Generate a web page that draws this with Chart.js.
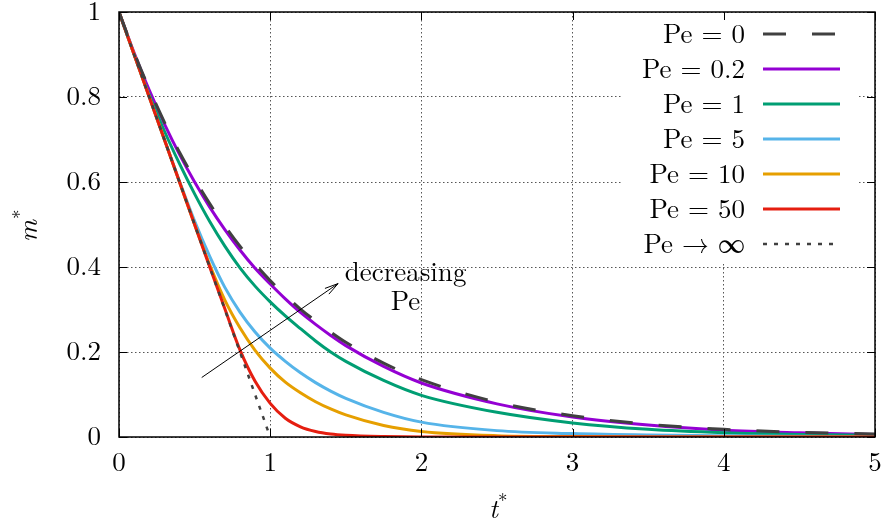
<!DOCTYPE html>
<html>
<head>
<meta charset="utf-8">
<script src="https://cdn.jsdelivr.net/npm/chart.js@4"></script>
<style>
  html, body { margin: 0; padding: 0; background: #fff; }
  #wrap { width: 881px; height: 525px; }
</style>
</head>
<body>
<div id="wrap"><canvas id="myChart"></canvas></div>
<script>
// Data
const tValues = [0, 0.1, 0.2, 0.3, 0.4, 0.5, 0.6, 0.7, 0.8, 0.9, 1.0, 1.1, 1.2, 1.3, 1.4, 1.5, 1.75, 2, 2.5, 3, 3.5, 4, 4.5, 5];
const peLabels = ["Pe = 0", "Pe = 0.2", "Pe = 1", "Pe = 5", "Pe = 10", "Pe = 50", "Pe \u2192 \u221E"];
const mPe0   = [1, 0.905, 0.819, 0.741, 0.670, 0.607, 0.549, 0.497, 0.449, 0.407, 0.368, 0.333, 0.301, 0.273, 0.247, 0.223, 0.174, 0.135, 0.082, 0.050, 0.030, 0.018, 0.011, 0.007];
const mPe02  = [1, 0.904, 0.816, 0.737, 0.665, 0.600, 0.541, 0.488, 0.440, 0.397, 0.360, 0.325, 0.293, 0.265, 0.239, 0.215, 0.166, 0.127, 0.078, 0.047, 0.028, 0.016, 0.010, 0.006];
const mPe1   = [1, 0.900, 0.805, 0.720, 0.643, 0.572, 0.507, 0.449, 0.398, 0.355, 0.318, 0.285, 0.255, 0.226, 0.200, 0.178, 0.133, 0.098, 0.058, 0.033, 0.018, 0.010, 0.006, 0.004];
const mPe5   = [1, 0.900, 0.800, 0.700, 0.602, 0.508, 0.425, 0.352, 0.294, 0.247, 0.209, 0.178, 0.151, 0.128, 0.108, 0.091, 0.058, 0.035, 0.015, 0.008, 0.0045, 0.0027, 0.0017, 0.001];
const mPe10  = [1, 0.900, 0.800, 0.700, 0.600, 0.500, 0.405, 0.322, 0.257, 0.204, 0.162, 0.129, 0.104, 0.083, 0.066, 0.052, 0.027, 0.013, 0.003, 0.001, 0, 0, 0, 0];
const mPe50  = [1, 0.900, 0.800, 0.700, 0.600, 0.500, 0.400, 0.302, 0.205, 0.131, 0.079, 0.044, 0.024, 0.013, 0.007, 0.004, 0.001, 0, 0, 0, 0, 0, 0, 0];
const mPeInf = [1, 0.9, 0.8, 0.7, 0.6, 0.5, 0.4, 0.3, 0.2, 0.1, 0, null, null, null, null, null, null, null, null, null, null, null, null, null];
const xTickValues = [0, 1, 2, 3, 4, 5];
const yTickValues = [0, 0.2, 0.4, 0.6, 0.8, 1];

const FONT = "'Latin Modern Roman', 'Liberation Serif', serif";
const GRAY = "#404040";

function pts(arr) {
  return tValues.map((t, i) => ({ x: t, y: arr[i] })).filter(p => p.y !== null);
}

const series = [
  { data: mPe0,   color: GRAY,      width: 3,   dash: [23, 26], order: 0 },
  { data: mPe02,  color: "#9400D3", width: 3,   dash: [],       order: 6 },
  { data: mPe1,   color: "#009E73", width: 3,   dash: [],       order: 5 },
  { data: mPe5,   color: "#56B4E9", width: 3,   dash: [],       order: 4 },
  { data: mPe10,  color: "#E69F00", width: 3,   dash: [],       order: 3 },
  { data: mPe50,  color: "#E51E10", width: 3,   dash: [],       order: 2 },
  { data: mPeInf, color: GRAY,      width: 2.5, dash: [4, 7],   order: 1 }
];

const datasets = series.map((s, i) => ({
  label: peLabels[i],
  data: pts(s.data),
  borderColor: s.color,
  backgroundColor: s.color,
  borderWidth: s.width,
  borderDash: s.dash,
  order: s.order,
  pointRadius: 0,
  fill: false,
  cubicInterpolationMode: "monotone"
}));

// annotation (data coordinates)
const arrowFrom = { x: 0.547, y: 0.14 };
const arrowTo = { x: 1.449, y: 0.361 };
const noteLines = [{ text: "decreasing", x: 1.895, y: 0.367 }, { text: "Pe", x: 1.895, y: 0.298 }];

const overlay = {
  id: "overlay",
  beforeDatasetsDraw(chart) {
    const ctx = chart.ctx;
    ctx.save();
    ctx.fillStyle = "#fff";
    ctx.fillRect(622, chart.chartArea.top + 1, 236, 250);
    ctx.restore();
  },
  afterDatasetsDraw(chart) {
    const ctx = chart.ctx;
    const a = chart.chartArea;
    const xs = chart.scales.x, ys = chart.scales.y;
    ctx.save();

    // inward tick marks on all sides
    ctx.strokeStyle = "#000";
    ctx.lineWidth = 1;
    ctx.setLineDash([]);
    ctx.beginPath();
    xTickValues.forEach(v => {
      const px = Math.round(xs.getPixelForValue(v)) + 0.5;
      ctx.moveTo(px, a.bottom); ctx.lineTo(px, a.bottom - 8);
      ctx.moveTo(px, a.top); ctx.lineTo(px, a.top + 8);
    });
    yTickValues.forEach(v => {
      const py = Math.round(ys.getPixelForValue(v)) + 0.5;
      ctx.moveTo(a.left, py); ctx.lineTo(a.left + 8, py);
      ctx.moveTo(a.right, py); ctx.lineTo(a.right - 8, py);
    });
    ctx.stroke();

    // frame
    ctx.lineWidth = 1.5;
    ctx.strokeRect(a.left, a.top, a.right - a.left, a.bottom - a.top);

    // legend
    ctx.font = "27px " + FONT;
    ctx.fillStyle = "#000";
    ctx.textAlign = "right";
    ctx.textBaseline = "middle";
    chart.data.datasets.forEach((ds, i) => {
      const y = 34 + i * 35;
      ctx.fillText(ds.label, 745, y + 1);
      ctx.strokeStyle = ds.borderColor;
      ctx.lineWidth = ds.borderWidth;
      ctx.setLineDash(ds.borderDash);
      ctx.beginPath();
      ctx.moveTo(763, y);
      ctx.lineTo(840, y);
      ctx.stroke();
    });
    ctx.setLineDash([]);

    // arrow
    const x1 = xs.getPixelForValue(arrowFrom.x), y1 = ys.getPixelForValue(arrowFrom.y);
    const x2 = xs.getPixelForValue(arrowTo.x), y2 = ys.getPixelForValue(arrowTo.y);
    const ang = Math.atan2(y2 - y1, x2 - x1);
    ctx.strokeStyle = "#000";
    ctx.lineWidth = 1;
    ctx.beginPath();
    ctx.moveTo(x1, y1); ctx.lineTo(x2, y2);
    ctx.moveTo(x2 - 14 * Math.cos(ang - 0.25), y2 - 14 * Math.sin(ang - 0.25));
    ctx.lineTo(x2, y2);
    ctx.lineTo(x2 - 14 * Math.cos(ang + 0.25), y2 - 14 * Math.sin(ang + 0.25));
    ctx.stroke();

    ctx.textAlign = "center";
    ctx.textBaseline = "alphabetic";
    noteLines.forEach(n => {
      ctx.fillText(n.text, xs.getPixelForValue(n.x), ys.getPixelForValue(n.y));
    });

    // axis titles
    ctx.font = "italic 27px " + FONT;
    ctx.textAlign = "left";
    ctx.fillText("t", 489, 518);
    ctx.font = "19px " + FONT;
    ctx.fillText("*", 498, 507);

    ctx.translate(37, 242);
    ctx.rotate(-Math.PI / 2);
    ctx.font = "italic 27px " + FONT;
    ctx.fillText("m", 0, 0);
    ctx.font = "19px " + FONT;
    ctx.fillText("*", 23, -11);
    ctx.restore();
  }
};

const config = {
  type: "line",
  data: { datasets: datasets },
  options: {
    responsive: false,
    animation: false,
    layout: { padding: { left: 0, right: 6, top: 12, bottom: 0 } },
    plugins: { legend: { display: false }, tooltip: { enabled: false } },
    scales: {
      x: {
        type: "linear",
        min: 0, max: 5,
        afterBuildTicks: s => { s.ticks = xTickValues.map(v => ({ value: v })); },
        afterFit: s => { s.height = 88; s.paddingLeft = 0; s.paddingRight = 0; },
        ticks: { color: "#000", font: { family: FONT, size: 27 }, padding: 10, maxRotation: 0, autoSkip: false },
        grid: { color: "#555", lineWidth: 1, drawTicks: false },
        border: { display: false, dash: [1.5, 2.5] }
      },
      y: {
        type: "linear",
        min: 0, max: 1,
        afterBuildTicks: s => { s.ticks = yTickValues.map(v => ({ value: v })); },
        afterFit: s => { s.width = 119; s.paddingTop = 0; s.paddingBottom = 0; },
        ticks: {
          color: "#000", font: { family: FONT, size: 27 }, padding: 18, autoSkip: false,
          callback: v => String(Math.round(v * 10) / 10)
        },
        grid: { color: "#555", lineWidth: 1, drawTicks: false },
        border: { display: false, dash: [1.5, 2.5] }
      }
    }
  },
  plugins: [overlay]
};

const canvas = document.getElementById("myChart");
canvas.width = 881;
canvas.height = 525;
const myChart = new Chart(canvas.getContext("2d"), config);
</script>
</body>
</html>
